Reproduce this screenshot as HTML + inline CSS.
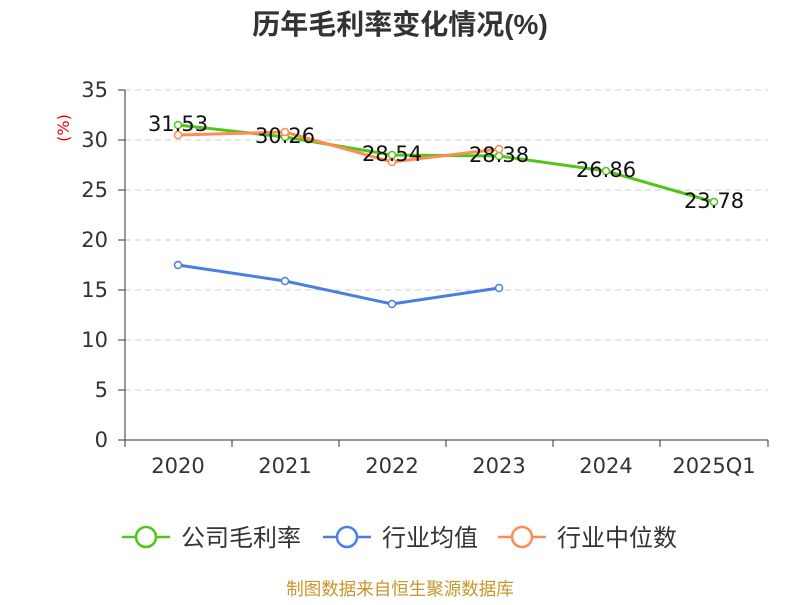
<!DOCTYPE html>
<html><head><meta charset="utf-8"><style>
body{margin:0;background:#fff;width:800px;height:600px;overflow:hidden}
text{font-family:"DejaVu Sans","Noto Sans CJK SC",sans-serif}
</style></head><body>
<svg width="800" height="600" xmlns="http://www.w3.org/2000/svg">
<text x="400" y="34" text-anchor="middle" font-size="28" font-weight="bold" fill="#333" style="font-family:'Liberation Sans','Noto Sans CJK SC',sans-serif">历年毛利率变化情况(%)</text>
<text x="70" y="128" font-size="16" fill="#e00" text-anchor="middle" transform="rotate(-90 70 128)" dy="-1">(%)</text>
<g stroke="#ccc" stroke-dasharray="6,4" stroke-width="1">
<line x1="125" x2="768" y1="90" y2="90"/><line x1="125" x2="768" y1="140" y2="140"/>
<line x1="125" x2="768" y1="190" y2="190"/><line x1="125" x2="768" y1="240" y2="240"/>
<line x1="125" x2="768" y1="290" y2="290"/><line x1="125" x2="768" y1="340" y2="340"/>
<line x1="125" x2="768" y1="390" y2="390"/>
</g>
<g stroke="#333" stroke-width="1">
<line x1="125" x2="125" y1="90" y2="440"/><line x1="125" x2="768" y1="440" y2="440"/>
<line x1="118" x2="125" y1="90" y2="90"/><line x1="118" x2="125" y1="140" y2="140"/><line x1="118" x2="125" y1="190" y2="190"/><line x1="118" x2="125" y1="240" y2="240"/><line x1="118" x2="125" y1="290" y2="290"/><line x1="118" x2="125" y1="340" y2="340"/><line x1="118" x2="125" y1="390" y2="390"/><line x1="118" x2="125" y1="440" y2="440"/>
<line x1="125" x2="125" y1="440" y2="447"/><line x1="232" x2="232" y1="440" y2="447"/><line x1="339" x2="339" y1="440" y2="447"/><line x1="446" x2="446" y1="440" y2="447"/><line x1="553" x2="553" y1="440" y2="447"/><line x1="660" x2="660" y1="440" y2="447"/><line x1="768" x2="768" y1="440" y2="447"/>
</g>
<g font-size="21" fill="#333" text-anchor="end">
<text x="108" y="97">35</text><text x="108" y="147">30</text><text x="108" y="197">25</text><text x="108" y="247">20</text><text x="108" y="297">15</text><text x="108" y="347">10</text><text x="108" y="397">5</text><text x="108" y="447">0</text>
</g>
<g font-size="21" fill="#333" text-anchor="middle">
<text x="178" y="473">2020</text><text x="285" y="473">2021</text><text x="392" y="473">2022</text><text x="499" y="473">2023</text><text x="606" y="473">2024</text><text x="714" y="473">2025Q1</text>
</g>
<polyline fill="none" stroke="#52c41a" stroke-width="3" points="178,125 285,137 392,155 499,156 606,171 714,202"/>
<polyline fill="none" stroke="#4a7fe0" stroke-width="3" points="178,265 285,281 392,304 499,288"/>
<polyline fill="none" stroke="#ff8c55" stroke-width="3" points="178,135 285,132 392,162 499,149"/>
<g fill="#fff" stroke-width="1.5">
<g stroke="#52c41a"><circle cx="178" cy="125" r="3.5"/><circle cx="285" cy="137" r="3.5"/><circle cx="392" cy="155" r="3.5"/><circle cx="499" cy="156" r="3.5"/><circle cx="606" cy="171" r="3.5"/><circle cx="714" cy="202" r="3.5"/></g>
<g stroke="#4a7fe0"><circle cx="178" cy="265" r="3.5"/><circle cx="285" cy="281" r="3.5"/><circle cx="392" cy="304" r="3.5"/><circle cx="499" cy="288" r="3.5"/></g>
<g stroke="#ff8c55"><circle cx="178" cy="135" r="3.5"/><circle cx="285" cy="132" r="3.5"/><circle cx="392" cy="162" r="3.5"/><circle cx="499" cy="149" r="3.5"/></g>
</g>
<g font-size="21" fill="#111" text-anchor="middle">
<text x="178" y="131">31.53</text><text x="285" y="143">30.26</text><text x="392" y="161">28.54</text><text x="499" y="162">28.38</text><text x="606" y="177">26.86</text><text x="714" y="208">23.78</text>
</g>
<g stroke-width="2.5" fill="#fff">
<line x1="122" x2="170" y1="537" y2="537" stroke="#52c41a"/><circle cx="146" cy="537" r="10" stroke="#52c41a"/>
<line x1="323" x2="371" y1="537" y2="537" stroke="#4a7fe0"/><circle cx="347" cy="537" r="10" stroke="#4a7fe0"/>
<line x1="498" x2="546" y1="537" y2="537" stroke="#ff8c55"/><circle cx="522" cy="537" r="10" stroke="#ff8c55"/>
</g>
<g font-size="24" fill="#333">
<text x="181" y="546">公司毛利率</text><text x="382" y="546">行业均值</text><text x="557" y="546">行业中位数</text>
</g>
<text x="400" y="595" font-size="17.5" fill="#c8962a" text-anchor="middle">制图数据来自恒生聚源数据库</text>
</svg>
</body></html>
